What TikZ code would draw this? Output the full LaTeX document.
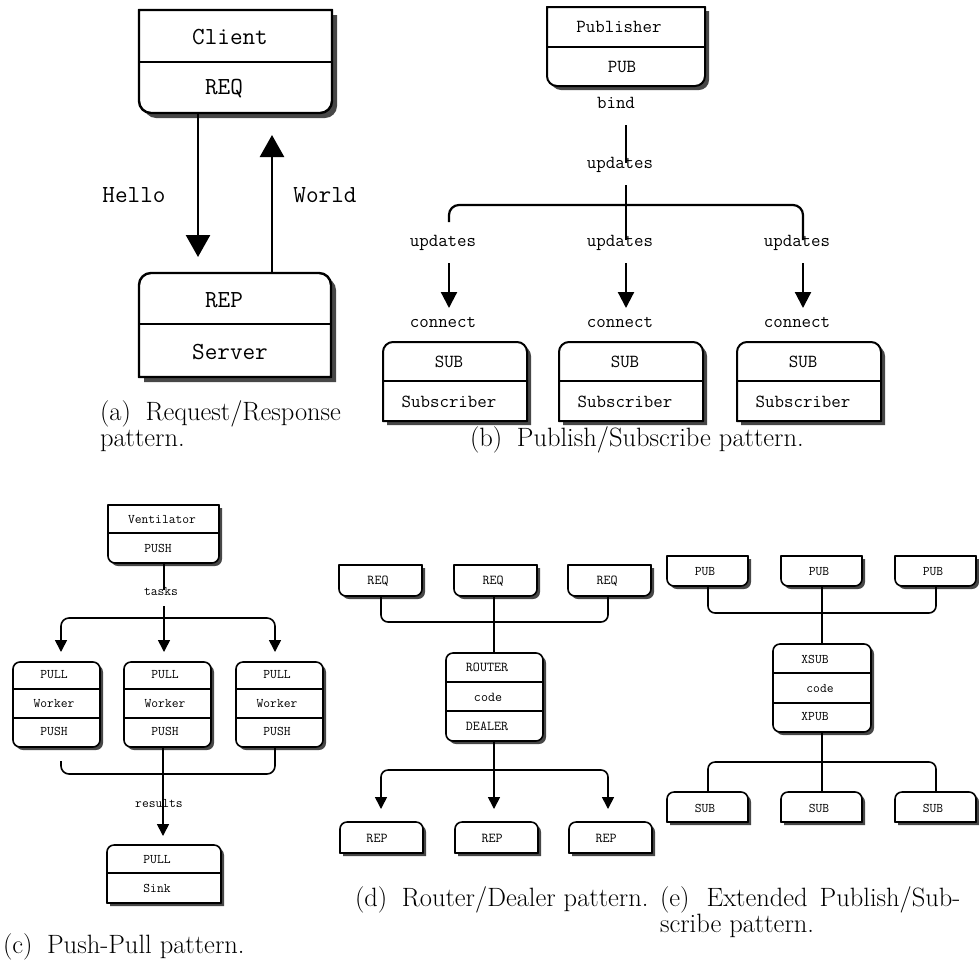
\documentclass[tikz,border=0pt]{standalone}
\usepackage{fontspec}
\usetikzlibrary{arrows.meta}
\definecolor{dropshadow}{gray}{0.28}

% outline of a ditaa-style box: x1, top, x2, bottom, top radius, bottom radius
\newcommand\dtpath[6]{({#1},{#2+#5}) arc[start angle=180,end angle=90,radius=#5pt] -- ({#3-#5},{#2}) arc[start angle=90,end angle=0,radius=#5pt] -- ({#3},{#4-#6}) arc[start angle=0,end angle=-90,radius=#6pt] -- ({#1+#6},{#4}) arc[start angle=-90,end angle=-180,radius=#6pt] -- cycle}

% box with drop shadow: name, x1, top, x2, bottom, top radius, bottom radius, shadow, line width
\newcommand\dtbox[9]{%
  \fill[dropshadow,shift={(#8,#8)}] \dtpath{#2}{#3}{#4}{#5}{#6}{#7};
  \draw[fill=white,line width=#9pt] \dtpath{#2}{#3}{#4}{#5}{#6}{#7};
  \node[inner sep=0,outer sep=0,minimum width={(#4-#2)*1pt},minimum height={(#5-#3)*1pt}] (#1) at ({(#2+#4)/2},{(#3+#5)/2}) {};
}
% horizontal divider inside a box: x1, x2, y, line width
\newcommand\dtsplit[4]{\draw[line width=#4pt] (#1,#3) -- (#2,#3);}

\tikzset{
  lbl/.style={inner sep=0,outer sep=0},
  tA/.style={lbl,font=\fontsize{24.5}{28}\selectfont\ttfamily},
  tB/.style={lbl,font=\fontsize{18.4}{22}\selectfont\ttfamily},
  tC/.style={lbl,font=\fontsize{13.2}{16}\selectfont\ttfamily},
  tD/.style={lbl,font=\fontsize{13.6}{16}\selectfont\ttfamily},
  tE/.style={lbl,font=\fontsize{13.2}{16}\selectfont\ttfamily},
  capt/.style={lbl,anchor=base west,font=\fontsize{26.5}{28}\selectfont},
  lnA/.style={line width=2.6pt},
  lnB/.style={line width=2.2pt},
  lnC/.style={line width=1.6pt},
  arA/.style={lnA,-{Triangle[width=24pt,length=22pt]}},
  arB/.style={lnB,-{Triangle[width=16pt,length=16pt]}},
  arC/.style={lnC,-{Triangle[width=12pt,length=12pt]}},
}

\begin{document}
\begin{tikzpicture}[x=1pt,y=-1pt]
\useasboundingbox (0,0) rectangle (979,967);

% ---------------- (a) request / response
\dtbox{client}{139}{10}{332}{113}{0.01}{12}{5}{2.4}
\dtsplit{139}{332}{62}{2.4}
\node[tA] (clientT) at (230,37) {Client};
\node[tA] (reqT) at (224,89) {REQ};
\dtbox{server}{139}{273}{331}{377}{12}{0.01}{5}{2.4}
\dtsplit{139}{331}{324}{2.4}
\node[tA] (repT) at (224,300) {REP};
\node[tA] (serverT) at (230,352) {Server};
\coordinate (helloTip) at (198,257);
\coordinate (worldTip) at (272,135);
\draw[arA] (client.south -| helloTip) -- (helloTip);
\draw[arA] (server.north -| worldTip) -- (worldTip);
\node[tA] (hello) at (134,195) {Hello};
\node[tA] (world) at (325,195) {World};
\node[capt] (capA1) at (100,420) {(a)\hspace{0.55em}Request/Response};
\node[capt] (capA2) at (100,446) {pattern.};

% ---------------- (b) publish / subscribe
\dtbox{pub}{547}{7}{705}{86}{0.01}{10}{4}{2}
\dtsplit{547}{705}{47}{2}
\node[tB] (pubT1) at (619,27) {Publisher};
\node[tB] (pubT2) at (622,67) {PUB};
\node[tB] (bind) at (616,103) {bind};
\coordinate (b1) at (626,125);
\coordinate (b2) at (626,163);
\draw[lnB] (b1) -- (b2);
\node[tB] (upd0) at (620,165) {updates};
\coordinate (b3) at (626,185);
\coordinate (b4) at (626,240);
\draw[lnB] (b3) -- (b4);
\coordinate (bl) at (449,222);
\coordinate (br) at (803,240);
\draw[lnB,rounded corners=10pt] (bl) -- (449,205) -- (803,205) -- (br);
\node[tB] (upd1) at (443,243) {updates};
\node[tB] (upd2) at (620,243) {updates};
\node[tB] (upd3) at (797,243) {updates};
\foreach \n/\x in {1/449,2/626,3/803}{
  \coordinate (bs\n) at (\x,263);
  \coordinate (bt\n) at (\x,308);
  \draw[arB] (bs\n) -- (bt\n);
}
\node[tB] (con1) at (443,322) {connect};
\node[tB] (con2) at (620,322) {connect};
\node[tB] (con3) at (797,322) {connect};
\foreach \n/\x in {A/383,B/559,C/737}{
  \dtbox{sub\n}{\x}{342}{\x+144}{421}{10}{0.01}{4}{2}
  \dtsplit{\x}{\x+144}{381}{2}
  \node[tB] (subT\n) at (\x+66,362) {SUB};
  \node[tB] (subS\n) at (\x+66,402) {Subscriber};
}
\node[capt] (capB) at (470,446) {(b)\hspace{0.55em}Publish/Subscribe pattern.};

% ---------------- (c) push / pull
\dtbox{vent}{108}{505}{219}{563}{0.01}{7}{3}{1.6}
\dtsplit{108}{219}{533}{1.6}
\node[tC] (ventT) at (162,520) {Ventilator};
\node[tC] (ventP) at (158,548) {PUSH};
\coordinate (c1) at (164,590);
\draw[lnC] (vent.south -| c1) -- (c1);
\node[tC] (tasks) at (161,591) {tasks};
\coordinate (c2) at (164,606);
\coordinate (ct2) at (164,652);
\draw[arC] (c2) -- (ct2);
\coordinate (cbus) at (164,618);
\coordinate (ct1) at (61,652);
\coordinate (ct3) at (275,652);
\draw[arC,rounded corners=8pt] (cbus) -- (61,618) -- (ct1);
\draw[arC,rounded corners=8pt] (cbus) -- (275,618) -- (ct3);
\foreach \n/\x in {A/13,B/124,C/236}{
  \dtbox{work\n}{\x}{662}{\x+87}{747}{7}{7}{3}{1.6}
  \dtsplit{\x}{\x+87}{689}{1.6}
  \dtsplit{\x}{\x+87}{718}{1.6}
  \node[tC] (pull\n) at (\x+41,675) {PULL};
  \node[tC] (worker\n) at (\x+41,704) {Worker};
  \node[tC] (push\n) at (\x+41,731) {PUSH};
}
\dtbox{sink}{107}{845}{221}{903}{7}{0.01}{3}{1.6}
\dtsplit{107}{221}{873}{1.6}
\node[tC] (sinkP) at (157,860) {PULL};
\node[tC] (sinkT) at (157,888) {Sink};
\coordinate (cr) at (163,836);
\draw[arC] (workB.south -| cr) -- (cr);
\coordinate (cx3) at (275,0);
\coordinate (cl) at (61,761);
\draw[lnC,rounded corners=8pt] (workC.south -| cx3) -- (275,774) -- (61,774) -- (cl);
\node[tC] (results) at (159,803) {results};
\node[capt] (capC) at (3,953) {(c)\hspace{0.55em}Push-Pull pattern.};

% ---------------- (d) router / dealer
\foreach \n/\x in {A/339,B/454,C/568}{
  \dtbox{req\n}{\x}{565}{\x+83}{596}{0.01}{7}{3}{1.6}
  \node[tD] (reqT\n) at (\x+39,581) {REQ};
  \dtbox{rep\n}{\x+1}{822}{\x+84}{853}{7}{0.01}{3}{1.6}
  \node[tD] (repT\n) at (\x+38,838) {REP};
}
\dtbox{router}{446}{653}{543}{741}{7}{7}{3}{1.6}
\dtsplit{446}{543}{682}{1.6}
\dtsplit{446}{543}{711}{1.6}
\node[tD] (routerT) at (487,667) {ROUTER};
\node[tD] (codeD) at (488,697) {code};
\node[tD] (dealerT) at (487,726) {DEALER};
\coordinate (dx1) at (381,0);
\coordinate (dx2) at (494,0);
\coordinate (dx3) at (608,0);
\draw[lnC,rounded corners=7pt] (reqA.south -| dx1) -- (381,622) -- (608,622) -- (reqC.south -| dx3);
\draw[lnC] (reqB.south -| dx2) -- (router.north -| dx2);
\coordinate (dt1) at (381,809);
\coordinate (dt2) at (494,809);
\coordinate (dt3) at (608,809);
\coordinate (dbus) at (494,770);
\draw[arC] (router.south -| dx2) -- (dt2);
\draw[arC,rounded corners=7pt] (dbus) -- (381,770) -- (dt1);
\draw[arC,rounded corners=7pt] (dbus) -- (608,770) -- (dt3);
\node[capt] (capD) at (355,906) {(d)\hspace{0.55em}Router/Dealer pattern.};

% ---------------- (e) extended publish / subscribe
\foreach \n/\x in {A/667,B/781,C/895}{
  \dtbox{pubE\n}{\x}{556}{\x+81}{586}{0.01}{7}{3}{1.6}
  \node[tE] (pubET\n) at (\x+38,572) {PUB};
  \dtbox{subE\n}{\x}{792}{\x+81}{822}{7}{0.01}{3}{1.6}
  \node[tE] (subET\n) at (\x+38,808) {SUB};
}
\dtbox{xsub}{773}{644}{871}{732}{7}{7}{3}{1.6}
\dtsplit{773}{871}{673}{1.6}
\dtsplit{773}{871}{703}{1.6}
\node[tE] (xsubT) at (815,659) {XSUB};
\node[tE] (codeE) at (820,688) {code};
\node[tE] (xpubT) at (815,717) {XPUB};
\coordinate (ex1) at (708,0);
\coordinate (ex2) at (822,0);
\coordinate (ex3) at (936,0);
\draw[lnC,rounded corners=7pt] (pubEA.south -| ex1) -- (708,613) -- (936,613) -- (pubEC.south -| ex3);
\draw[lnC] (pubEB.south -| ex2) -- (xsub.north -| ex2);
\draw[lnC] (xsub.south -| ex2) -- (subEB.north -| ex2);
\draw[lnC,rounded corners=7pt] (subEA.north -| ex1) -- (708,762) -- (936,762) -- (subEC.north -| ex3);
\node[capt] (capE1) at (660,906) {(e)\hspace{0.65em}Extended\hspace{0.45em}Publish/Sub-};
\node[capt] (capE2) at (660,932) {scribe pattern.};
\end{tikzpicture}
\end{document}
